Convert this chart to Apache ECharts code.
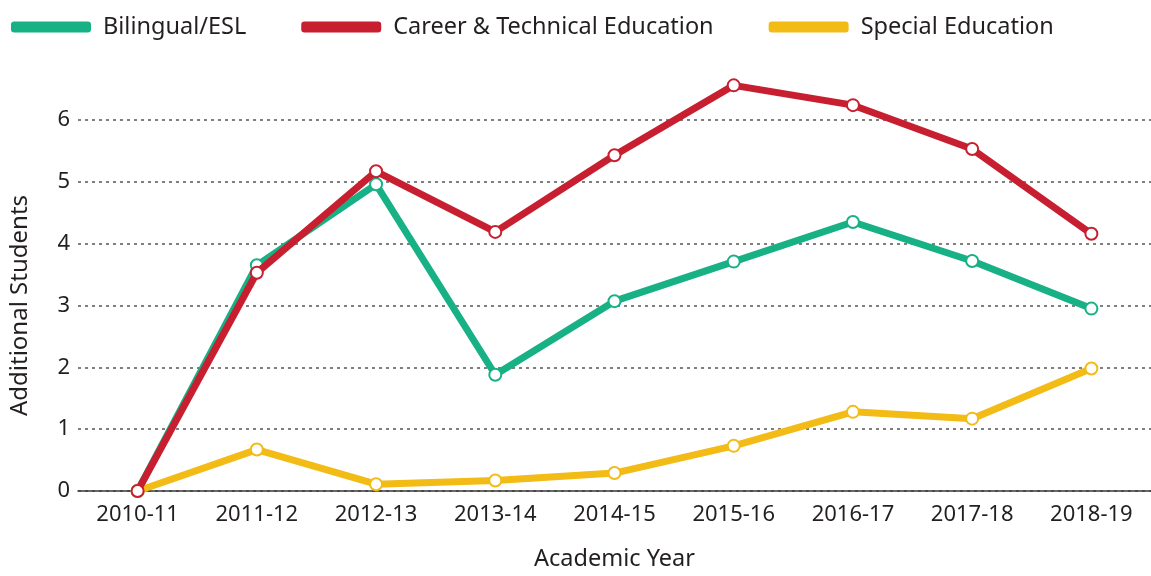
<!DOCTYPE html>
<html lang="en">
<head>
    <meta charset="utf-8">
    <title>Additional Students</title>
    <script src="https://cdn.jsdelivr.net/npm/echarts@6/dist/echarts.min.js"></script>
    <style>
        html, body { margin: 0; padding: 0; background: #fff; }
        #chart { width: 1151px; height: 576px; }
    </style>
</head>
<body>
<div id="chart"></div>
<script type="text/javascript">
    var years = ['2010-11', '2011-12', '2012-13', '2013-14', '2014-15', '2015-16', '2016-17', '2017-18', '2018-19'];
    var bilingual = [0, 3.65, 4.96, 1.88, 3.07, 3.71, 4.35, 3.72, 2.95];
    var career = [0, 3.53, 5.17, 4.19, 5.43, 6.56, 6.24, 5.53, 4.16];
    var special = [0, 0.67, 0.11, 0.17, 0.29, 0.73, 1.28, 1.17, 1.98];

    var green = '#17b185', red = '#c81f30', yellow = '#f2bb16';
    var fontFamily = 'Noto Sans';

    function lineSeries(name, data, color, z) {
        return {
            name: name,
            type: 'line',
            data: data,
            z: z,
            clip: false,
            symbol: 'circle',
            symbolSize: 12,
            lineStyle: { width: 7, color: color },
            itemStyle: { color: '#fff', borderColor: color, borderWidth: 2 }
        };
    }

    var myChart = echarts.init(document.getElementById('chart'));
    var option = {
        animation: false,
        textStyle: { fontFamily: fontFamily, color: '#231f20' },
        legend: {
            data: [
                { name: 'Bilingual/ESL', itemStyle: { color: green } },
                { name: 'Career & Technical Education', itemStyle: { color: red } },
                { name: 'Special Education', itemStyle: { color: yellow } }
            ],
            left: 6,
            top: 10,
            icon: 'roundRect',
            itemWidth: 78,
            itemHeight: 9,
            itemGap: 55,
            textStyle: { fontSize: 23.5, color: '#231f20', fontFamily: fontFamily, padding: [0, 0, 0, 8] }
        },
        grid: { left: 77, right: -2, top: 120, bottom: 82 },
        xAxis: {
            type: 'category',
            data: years,
            boundaryGap: true,
            name: 'Academic Year',
            nameLocation: 'middle',
            nameGap: 56,
            nameTextStyle: { fontSize: 23.5, color: '#231f20' },
            axisLine: { lineStyle: { color: '#3a3a3a', width: 1.5 } },
            axisTick: { alignWithLabel: true, length: 10, lineStyle: { color: '#3a3a3a', width: 1.5 } },
            axisLabel: { fontSize: 22, color: '#231f20', margin: 13 }
        },
        yAxis: {
            type: 'value',
            min: 0,
            max: 6,
            interval: 1,
            name: 'Additional Students',
            nameLocation: 'middle',
            nameGap: 46,
            nameTextStyle: { fontSize: 24, color: '#231f20' },
            axisLine: { show: false },
            axisTick: { show: false },
            axisLabel: { fontSize: 22, color: '#231f20', margin: 8 },
            splitLine: { lineStyle: { color: '#555', type: [3, 4], width: 1.5 } }
        },
        series: [
            lineSeries('Bilingual/ESL', bilingual, green, 2),
            lineSeries('Special Education', special, yellow, 3),
            lineSeries('Career & Technical Education', career, red, 4)
        ]
    };
    myChart.setOption(option);
</script>
</body>
</html>
